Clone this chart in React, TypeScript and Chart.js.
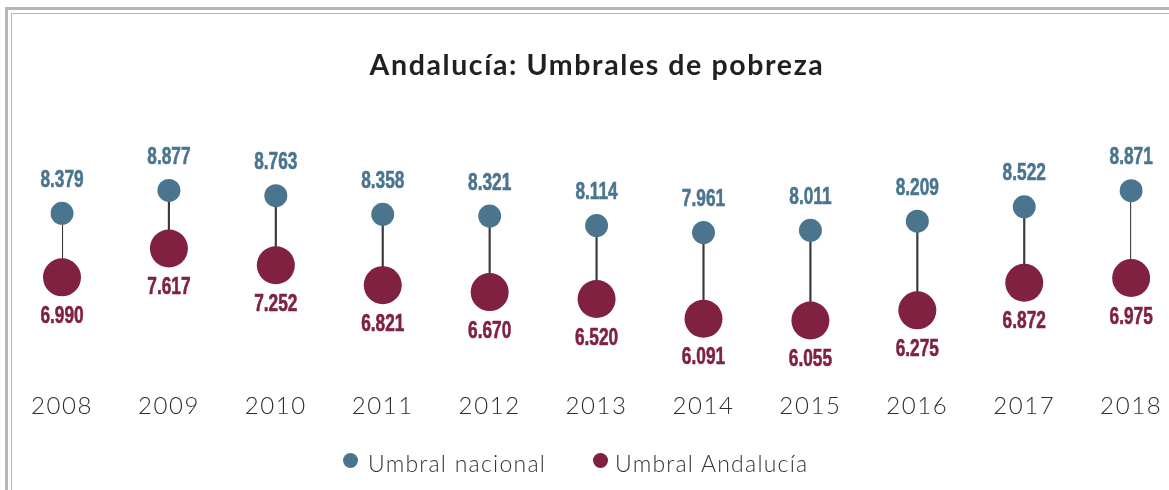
import React, { useEffect, useRef } from "react";
import { Chart, registerables } from "chart.js";

Chart.register(...registerables);

const years = ["2008", "2009", "2010", "2011", "2012", "2013", "2014", "2015", "2016", "2017", "2018"];
const nacional = [8379, 8877, 8763, 8358, 8321, 8114, 7961, 8011, 8209, 8522, 8871];
const andalucia = [6990, 7617, 7252, 6821, 6670, 6520, 6091, 6055, 6275, 6872, 6975];
const seriesNames = ["Umbral nacional", "Umbral Andalucía"];
const titleText = "Andalucía: Umbrales de pobreza";

const BLUE = "#4b758f";
const MAROON = "#80213f";

function fmt(v: number): string {
  return Math.floor(v / 1000) + "." + String(v % 1000).padStart(3, "0");
}

// widen title / tick lettering a little (drawn before datasets)
const spacing = {
  id: "spacing",
  beforeDraw(chart: any) {
    chart.ctx.letterSpacing = "1.6px";
  },
  beforeDatasetsDraw(chart: any) {
    chart.ctx.letterSpacing = "0px";
  },
};

const valueLabels = {
  id: "valueLabels",
  afterDatasetsDraw(chart: any) {
    const ctx = chart.ctx;
    ctx.save();
    ctx.letterSpacing = "0px";
    ctx.font = "bold 24px 'Liberation Sans', Arial, sans-serif";
    ctx.textAlign = "center";
    ctx.textBaseline = "middle";
    const specs: [number, string, number][] = [
      [1, BLUE, -33],
      [2, MAROON, 39],
    ];
    specs.forEach(([i, color, dy]) => {
      const meta = chart.getDatasetMeta(i);
      meta.data.forEach((pt: any, j: number) => {
        const v = chart.data.datasets[i].data[j] as number;
        ctx.save();
        ctx.fillStyle = color;
        ctx.strokeStyle = color;
        ctx.lineWidth = 0.6;
        ctx.translate(pt.x, pt.y + dy);
        ctx.scale(0.72, 1);
        ctx.fillText(fmt(v), 0, 0);
        ctx.strokeText(fmt(v), 0, 0);
        ctx.restore();
      });
    });
    ctx.restore();
  },
};

export default function App() {
  const ref = useRef<HTMLCanvasElement | null>(null);

  useEffect(() => {
    if (!ref.current) return;
    const chart = new Chart(ref.current, {
      type: "line",
      data: {
        labels: years,
        datasets: [
          {
            type: "bar",
            label: "connector",
            data: nacional.map((n, i) => [andalucia[i], n]) as any,
            backgroundColor: "#3a3a3a",
            barThickness: 1.5,
            order: 3,
          } as any,
          {
            type: "line",
            label: seriesNames[0],
            data: nacional,
            showLine: false,
            pointRadius: 11.5,
            pointHoverRadius: 11.5,
            pointBackgroundColor: BLUE,
            pointBorderWidth: 0,
            borderColor: BLUE,
            order: 2,
          },
          {
            type: "line",
            label: seriesNames[1],
            data: andalucia,
            showLine: false,
            pointRadius: 19,
            pointHoverRadius: 19,
            pointBackgroundColor: MAROON,
            pointBorderWidth: 0,
            borderColor: MAROON,
            order: 1,
          },
        ],
      },
      options: {
        responsive: false,
        animation: false,
        events: [],
        layout: { padding: { left: 62, right: 37, top: 0, bottom: 70 } },
        plugins: {
          legend: { display: false },
          tooltip: { enabled: false },
          title: {
            display: true,
            text: titleText,
            color: "#231f20",
            font: { family: "Lato, 'Open Sans', sans-serif", size: 28.5, weight: "bold" },
            padding: { top: 49, bottom: 37 },
          },
        },
        scales: {
          x: {
            type: "category",
            offset: false,
            grid: { display: false, drawTicks: false },
            border: { display: false },
            afterFit: (scale: any) => {
              scale.height = 38;
            },
            ticks: {
              color: "#2e2e2e",
              font: { family: "Lato, 'Open Sans', sans-serif", size: 24, weight: "300" },
              padding: 10,
              maxRotation: 0,
              autoSkip: false,
            },
          },
          y: {
            display: false,
            min: 4720,
            max: 10400,
          },
        },
      },
      plugins: [spacing, valueLabels],
    });
    return () => chart.destroy();
  }, []);

  const legendText: React.CSSProperties = {
    position: "absolute",
    top: 449,
    fontFamily: "Lato, 'Open Sans', sans-serif",
    fontWeight: 300,
    fontSize: 23,
    letterSpacing: "1.25px",
    lineHeight: "28px",
    color: "#333333",
    whiteSpace: "nowrap",
  };
  const dot = (color: string, left: number): React.CSSProperties => ({
    position: "absolute",
    left: left - 7.5,
    top: 460.5 - 7.5,
    width: 15,
    height: 15,
    borderRadius: "50%",
    background: color,
  });

  return (
    <div style={{ position: "absolute", left: 0, top: 0, width: 1169, height: 490, overflow: "hidden", background: "#fff" }}>
      <div
        style={{
          position: "absolute",
          left: 5,
          top: 7,
          width: 2000,
          height: 2000,
          borderLeft: "3px solid #b4b7b7",
          borderTop: "3px solid #b4b7b7",
        }}
      />
      <div
        style={{
          position: "absolute",
          left: 11,
          top: 13,
          width: 2000,
          height: 2000,
          borderLeft: "1px solid #b4b7b7",
          borderTop: "1px solid #b4b7b7",
        }}
      />
      <canvas ref={ref} width={1169} height={490} style={{ position: "absolute", left: 0, top: 0 }} />
      <div style={dot(BLUE, 350)} />
      <div style={{ ...legendText, left: 368 }}>{seriesNames[0]}</div>
      <div style={dot(MAROON, 600)} />
      <div style={{ ...legendText, left: 615 }}>{seriesNames[1]}</div>
    </div>
  );
}
